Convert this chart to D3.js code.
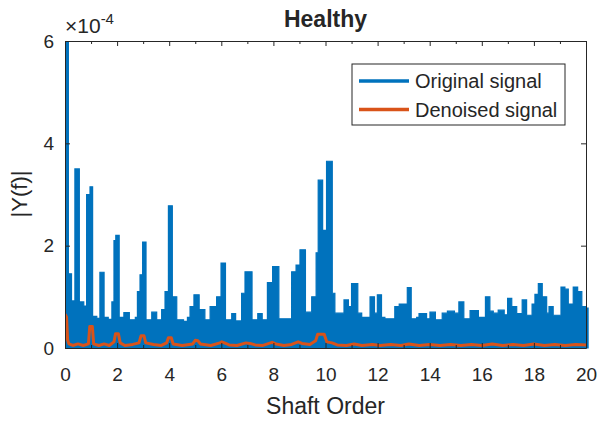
<!DOCTYPE html>
<html>
<head>
<meta charset="utf-8">
<script src="https://cdn.jsdelivr.net/npm/d3@7"></script>
<style>
  body { margin: 0; background: #fff; }
  svg text { font-family: "Liberation Sans", Arial, Helvetica, sans-serif; fill: #262626; }
  .axis path, .axis line { stroke: #262626; stroke-width: 1; }
</style>
</head>
<body>
<svg width="601" height="423"></svg>
<script>
// values are in units of 1e-4 (axis shows x10^-4)
const xTicks = [0, 2, 4, 6, 8, 10, 12, 14, 16, 18, 20];
const xMinorTicks = [1, 3, 5, 7, 9, 11, 13, 15, 17, 19];
const yTicks = [0, 2, 4, 6];
const seriesNames = ["Original signal", "Denoised signal"];

// original signal, upper envelope of the dense spectrum [shaft order, |Y(f)|]
const originalSignal = [
  [0.00, 6.20], [0.13, 1.45], [0.25, 0.92], [0.38, 3.50], [0.55, 0.90], [0.72, 0.82],
  [0.83, 3.00], [0.96, 3.15], [1.06, 0.62], [1.22, 0.58], [1.34, 1.48], [1.50, 0.60],
  [1.66, 0.56], [1.80, 0.90], [1.88, 2.10], [1.95, 2.20], [2.08, 0.60], [2.26, 0.69],
  [2.47, 0.55], [2.70, 0.60], [2.78, 1.10], [2.88, 1.43], [2.98, 2.07], [3.11, 0.55],
  [3.33, 0.70], [3.52, 0.55], [3.71, 0.75], [3.84, 1.10], [3.97, 2.78], [4.12, 1.00],
  [4.29, 0.55], [4.55, 0.52], [4.70, 0.60], [4.80, 0.81], [4.95, 1.04], [5.15, 0.75],
  [5.37, 0.55], [5.57, 0.81], [5.82, 1.00], [5.99, 1.66], [6.16, 0.55], [6.40, 0.67],
  [6.55, 0.53], [6.78, 1.07], [6.91, 1.49], [7.18, 0.55], [7.40, 0.67], [7.57, 0.55],
  [7.77, 1.28], [7.97, 1.59], [8.21, 0.57], [8.70, 1.49], [8.87, 1.62], [9.02, 1.92],
  [9.23, 0.70], [9.47, 1.00], [9.64, 1.86], [9.72, 3.28], [9.89, 2.30], [10.04, 3.65],
  [10.26, 1.07], [10.36, 0.68], [10.71, 0.94], [10.88, 0.81], [11.00, 1.26], [11.24, 0.68],
  [11.39, 0.60], [11.71, 1.00], [11.88, 0.68], [11.99, 1.04], [12.15, 0.60], [12.28, 0.57],
  [12.66, 0.81], [12.83, 0.86], [13.14, 1.18], [13.29, 0.57], [13.50, 0.60], [13.59, 0.67],
  [13.88, 0.57], [14.01, 0.70], [14.22, 0.55], [14.48, 0.68], [14.68, 0.72], [14.95, 0.68],
  [15.12, 0.90], [15.31, 0.57], [15.55, 0.73], [15.87, 0.60], [16.14, 1.00], [16.31, 0.72],
  [16.44, 0.68], [16.63, 0.74], [16.86, 0.65], [16.99, 0.97], [17.15, 0.81], [17.34, 0.67],
  [17.55, 0.94], [17.72, 0.64], [17.93, 0.86], [18.04, 1.05], [18.17, 1.26], [18.32, 1.00],
  [18.49, 0.68], [18.58, 0.81], [18.74, 0.64], [19.04, 1.19], [19.19, 1.15], [19.32, 0.86],
  [19.51, 1.19], [19.68, 1.10], [19.84, 0.81], [19.99, 0.78], [20.08, 0.78]
];

// denoised signal [shaft order, |Y(f)|]
const denoisedSignal = [
  [0.00, 0.66], [0.06, 0.60], [0.10, 0.16], [0.15, 0.08], [0.30, 0.05], [0.50, 0.08],
  [0.70, 0.05], [0.90, 0.08], [0.95, 0.42], [1.05, 0.42], [1.10, 0.08], [1.30, 0.05],
  [1.50, 0.08], [1.70, 0.05], [1.88, 0.12], [1.94, 0.28], [2.05, 0.28], [2.12, 0.10],
  [2.30, 0.05], [2.60, 0.07], [2.84, 0.10], [2.92, 0.24], [3.03, 0.24], [3.10, 0.10],
  [3.40, 0.07], [3.70, 0.05], [3.90, 0.10], [3.97, 0.20], [4.08, 0.20], [4.15, 0.08],
  [4.50, 0.05], [4.90, 0.08], [5.00, 0.15], [5.10, 0.14], [5.20, 0.08], [5.60, 0.05],
  [5.95, 0.10], [6.02, 0.12], [6.12, 0.10], [6.30, 0.06], [6.60, 0.05], [6.95, 0.10],
  [7.10, 0.09], [7.30, 0.06], [7.60, 0.05], [7.95, 0.11], [8.10, 0.08], [8.40, 0.05],
  [8.70, 0.07], [8.95, 0.12], [9.10, 0.09], [9.40, 0.07], [9.62, 0.14], [9.70, 0.27],
  [9.95, 0.27], [10.05, 0.12], [10.25, 0.10], [10.45, 0.06], [10.80, 0.05], [11.10, 0.08],
  [11.40, 0.05], [11.80, 0.07], [12.10, 0.05], [12.50, 0.07], [12.90, 0.05], [13.20, 0.08],
  [13.60, 0.05], [14.00, 0.07], [14.40, 0.05], [14.80, 0.07], [15.20, 0.05], [15.60, 0.07],
  [16.00, 0.05], [16.40, 0.08], [16.80, 0.05], [17.20, 0.07], [17.60, 0.05], [18.00, 0.08],
  [18.40, 0.05], [18.80, 0.07], [19.20, 0.05], [19.60, 0.07], [20.00, 0.06]
];

const colors = ["#0072BD", "#D95319"];

const svg = d3.select("svg"),
    width = +svg.attr("width"),
    height = +svg.attr("height");

const margin = {top: 41, right: 15, bottom: 75, left: 65};
const plotW = width - margin.left - margin.right,
    plotH = height - margin.top - margin.bottom;

const x = d3.scaleLinear().domain([0, 20]).range([margin.left, margin.left + plotW]);
const y = d3.scaleLinear().domain([0, 6]).range([margin.top + plotH, margin.top]);

svg.append("defs").append("clipPath")
    .attr("id", "plotClip")
    .append("rect")
    .attr("x", margin.left)
    .attr("y", margin.top)
    .attr("width", plotW + 3)
    .attr("height", plotH + 1);

const plot = svg.append("g").attr("clip-path", "url(#plotClip)");

// dense spectrum looks like a filled band, so draw it as a stepped area
const blueArea = d3.area()
    .x(d => x(d[0]))
    .y0(y(0))
    .y1(d => y(d[1]))
    .curve(d3.curveStepAfter);

plot.append("path")
    .datum(originalSignal)
    .attr("d", blueArea)
    .attr("fill", colors[0])
    .attr("stroke", colors[0])
    .attr("stroke-width", 1.2);

const orangeLine = d3.line()
    .x(d => x(d[0]))
    .y(d => y(d[1]));

plot.append("path")
    .datum(denoisedSignal)
    .attr("d", orangeLine)
    .attr("fill", "none")
    .attr("stroke", colors[1])
    .attr("stroke-width", 3)
    .attr("stroke-linejoin", "round");

// axes (MATLAB style: ticks inside, box on)
const bottom = svg.append("g")
    .attr("class", "axis")
    .attr("transform", `translate(0,${margin.top + plotH})`)
    .call(d3.axisBottom(x).tickValues(xTicks).tickSize(-5).tickPadding(20).tickSizeOuter(0));
bottom.selectAll("text").attr("font-size", 19);

svg.append("g")
    .attr("class", "axis")
    .attr("transform", `translate(0,${margin.top + plotH})`)
    .call(d3.axisBottom(x).tickValues(xMinorTicks).tickSize(-3).tickFormat("").tickSizeOuter(0))
    .select(".domain").remove();

svg.append("g")
    .attr("class", "axis")
    .attr("transform", `translate(0,${margin.top})`)
    .call(d3.axisTop(x).tickValues(xTicks).tickSize(-5).tickFormat("").tickSizeOuter(0));

svg.append("g")
    .attr("class", "axis")
    .attr("transform", `translate(0,${margin.top})`)
    .call(d3.axisTop(x).tickValues(xMinorTicks).tickSize(-3).tickFormat("").tickSizeOuter(0))
    .select(".domain").remove();

const left = svg.append("g")
    .attr("class", "axis")
    .attr("transform", `translate(${margin.left},0)`)
    .call(d3.axisLeft(y).tickValues(yTicks).tickFormat(d3.format("d"))
        .tickSize(-5).tickPadding(11).tickSizeOuter(0));
left.selectAll("text").attr("font-size", 19);

svg.append("g")
    .attr("class", "axis")
    .attr("transform", `translate(${margin.left + plotW},0)`)
    .call(d3.axisRight(y).tickValues(yTicks).tickSize(-5).tickFormat("").tickSizeOuter(0));

svg.selectAll(".axis text").attr("fill", "#262626");
svg.selectAll(".axis").attr("font-family", null);

// exponent label
const expo = svg.append("text")
    .attr("x", 65)
    .attr("y", 33)
    .attr("font-size", 21);
expo.append("tspan").text("\u00d710");
expo.append("tspan").attr("font-size", 15).attr("dy", -9).text("-4");

// title and axis labels
svg.append("text")
    .attr("x", margin.left + plotW / 2)
    .attr("y", 27)
    .attr("text-anchor", "middle")
    .attr("font-size", 23)
    .attr("font-weight", "bold")
    .text("Healthy");

svg.append("text")
    .attr("x", margin.left + plotW / 2)
    .attr("y", 414)
    .attr("text-anchor", "middle")
    .attr("font-size", 23)
    .text("Shaft Order");

svg.append("text")
    .attr("transform", "translate(27,194) rotate(-90)")
    .attr("text-anchor", "middle")
    .attr("font-size", 22)
    .text("|Y(f)|");

// legend
const legend = svg.append("g").attr("transform", "translate(352,64)");
legend.append("rect")
    .attr("width", 213)
    .attr("height", 61)
    .attr("fill", "#fff")
    .attr("stroke", "#262626")
    .attr("stroke-width", 1);

legend.selectAll("line.key")
    .data(seriesNames)
    .enter().append("line")
    .attr("class", "key")
    .attr("x1", 7)
    .attr("x2", 57)
    .attr("y1", (d, i) => 17 + i * 28.5)
    .attr("y2", (d, i) => 17 + i * 28.5)
    .attr("stroke", (d, i) => colors[i])
    .attr("stroke-width", 3.5);

legend.selectAll("text.key")
    .data(seriesNames)
    .enter().append("text")
    .attr("class", "key")
    .attr("x", 63)
    .attr("y", (d, i) => 24 + i * 28.5)
    .attr("font-size", 20)
    .text(d => d);
</script>
</body>
</html>
